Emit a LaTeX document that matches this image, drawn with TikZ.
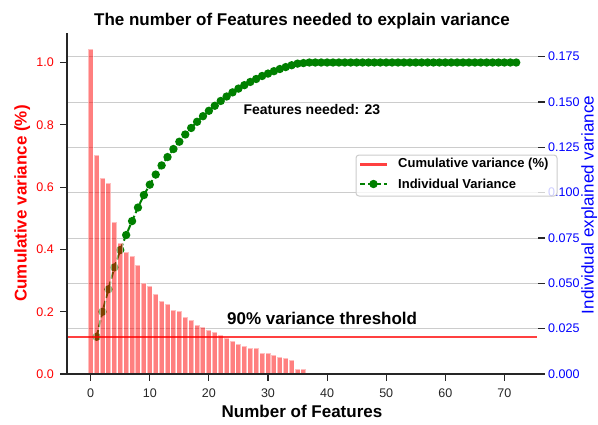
\documentclass[tikz,border=0pt]{standalone}
\usepackage{fontspec}
\setmainfont{Liberation Sans}
\definecolor{mplgreen}{rgb}{0,0.5,0}
\begin{document}
\begin{tikzpicture}[x=1pt,y=-1pt,
  gridline/.style={draw=black!20,line width=1pt},
  spine/.style={draw=black!85,line width=1.3pt},
  tickmark/.style={draw=black!85,line width=1.1pt},
  ticklab/.style={font=\fontsize{12.5}{14}\selectfont,inner sep=0pt},
  ltick/.style={ticklab,text=red,anchor=east},
  rtick/.style={ticklab,text=blue,anchor=west},
  btick/.style={ticklab,text=black!85,anchor=base},
  barbox/.style={fill=red,draw=white,line width=1pt,opacity=0.5},
  gdot/.style={circle,fill=mplgreen,inner sep=0pt,minimum size=8.4pt},
  gline/.style={draw=mplgreen,line width=2pt,dash pattern=on 7pt off 3pt},
  thr/.style={draw=red,draw opacity=0.75,line width=2.5pt},
  bigbold/.style={font=\fontsize{17}{20}\selectfont\bfseries,inner sep=0pt},
  legtext/.style={font=\fontsize{13}{15}\selectfont\bfseries,inner sep=0pt,anchor=west}
]
\useasboundingbox (0,0) rectangle (598,424);
\fill[white] (0,0) rectangle (598,424);

% grid lines at right-axis ticks
\foreach \i in {1,...,7}
  \draw[gridline] (67,{374-45.33*\i}) -- (538,{374-45.33*\i});

% cumulative points
\gdef\csum{0}
\foreach \h [count=\k] in {325,219,196,191,152,131,122,118,109,91,88,80,73,70,64,63,57,54,49,47,44,42,39,36,33,30,28,26,26,21,21,19,17,16,14,5,5} {
  \pgfmathsetmacro\newsum{\csum+\h}
  \xdef\csum{\newsum}
  \coordinate (g\k) at ({90.7+5.91*\k},{374-0.11448*\csum});
}
\foreach \k in {38,...,72}
  \coordinate (g\k) at ({90.7+5.91*\k},62.5);

\draw[gline] (g1) \foreach \k in {2,...,72} { -- (g\k) };
\foreach \k in {1,...,72}
  \node[gdot] (d\k) at (g\k) {};

% bars
\foreach \h [count=\i from 0] in {325,219,196,191,152,131,122,118,109,91,88,80,73,70,64,63,57,54,49,47,44,42,39,36,33,30,28,26,26,21,21,19,17,16,14,5,5}
  \draw[barbox] ({90.7+5.91*\i-2.5},374) rectangle ({90.7+5.91*\i+2.5},{374-\h});

% threshold line
\coordinate (thrA) at (67,337);
\coordinate (thrB) at (537,337);
\draw[thr] (thrA) -- (thrB);

% spines
\coordinate (o) at (67,374);
\coordinate (ltop) at (67,33);
\coordinate (bright) at (538,374);
\draw[spine] (ltop) -- (o) -- (bright);

% left ticks
\foreach \lab [count=\i from 0] in {0.0,0.2,0.4,0.6,0.8,1.0} {
  \draw[tickmark] (60,{374-62.3*\i}) -- (67,{374-62.3*\i});
  \node[ltick] (lt\i) at (54,{374-62.3*\i}) {\lab};
}
% right ticks
\foreach \lab [count=\i from 0] in {0.000,0.025,0.050,0.075,0.100,0.125,0.150,0.175} {
  \draw[tickmark] (538,{374-45.33*\i}) -- (545,{374-45.33*\i});
  \node[rtick] (rt\i) at (548,{374-45.33*\i}) {\lab};
}
% bottom ticks
\foreach \lab [count=\i from 0] in {0,10,20,30,40,50,60,70} {
  \draw[tickmark] ({90.7+59.1*\i},374) -- ({90.7+59.1*\i},381);
  \node[btick] (bt\i) at ({90.7+59.1*\i},397) {\lab};
}

% legend
\draw[draw=black!20,fill=white,fill opacity=0.8,line width=1pt,rounded corners=3pt] (356,155) rectangle (557,196);
\coordinate (l1a) at (360,164.3);
\coordinate (l1b) at (387,164.3);
\draw[thr] (l1a) -- (l1b);
\node[legtext] (leg1) at (398,164.3) {Cumulative variance (\%)};
\coordinate (l2a) at (360,184);
\coordinate (l2b) at (387,184);
\draw[gline,dash pattern=on 5pt off 3pt] (l2a) -- (l2b);
\node[gdot] (ld) at (373.5,184) {};
\node[legtext] (leg2) at (398,184) {Individual Variance};

% texts
\node[bigbold,anchor=base] (title) at (302,25.7) {The number of Features needed to explain variance};
\node[bigbold,anchor=base] (xlab) at (302,417) {Number of Features};
\node[bigbold,anchor=base,text=red,rotate=90] (ylab) at (26.7,203.5) {Cumulative variance (\%)};
\node[font=\fontsize{17}{20}\selectfont,inner sep=0pt,anchor=base,text=blue,rotate=90] (y2lab) at (593.5,205) {Individual explained variance};
\node[font=\fontsize{14}{16}\selectfont\bfseries,inner sep=0pt,anchor=base west] (feat) at (243.3,114) {Features needed: 23};
\node[bigbold,anchor=base west] (thrlab) at (227,324) {90\% variance threshold};
\end{tikzpicture}
\end{document}
